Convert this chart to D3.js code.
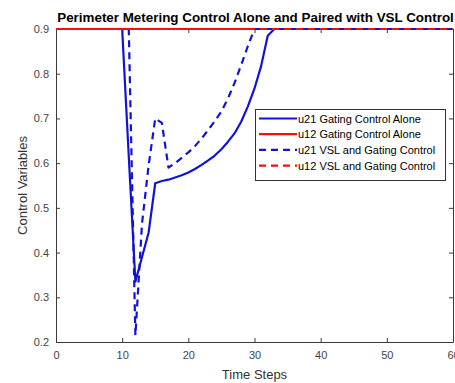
<!DOCTYPE html>
<html>
<head>
<meta charset="utf-8">
<script src="https://cdn.jsdelivr.net/npm/d3@7"></script>
<style>
  html, body { margin: 0; padding: 0; background: #fff; }
  svg { display: block; font-family: "Liberation Sans", Arial, Helvetica, sans-serif; }
</style>
</head>
<body>
<svg id="chart" width="455" height="383"></svg>
<script>
// Time steps 0..60
const steps = [0,1,2,3,4,5,6,7,8,9,10,11,12,13,14,15,16,17,18,19,20,
  21,22,23,24,25,26,27,28,29,30,31,32,33,34,35,36,37,38,39,40,
  41,42,43,44,45,46,47,48,49,50,51,52,53,54,55,56,57,58,59,60];

// u21 with gating control alone
const u21Alone = [0.9,0.9,0.9,0.9,0.9,0.9,0.9,0.9,0.9,0.9,0.9,
  0.615,0.335,0.39,0.445,0.555,0.56,0.563,0.568,0.573,0.579,
  0.587,0.596,0.606,0.617,0.631,0.648,0.667,0.693,0.727,0.767,
  0.817,0.885,0.9,0.9,0.9,0.9,0.9,0.9,0.9,0.9,
  0.9,0.9,0.9,0.9,0.9,0.9,0.9,0.9,0.9,0.9,
  0.9,0.9,0.9,0.9,0.9,0.9,0.9,0.9,0.9,0.9];

// u12 with gating control alone
const u12Alone = [0.9,0.9,0.9,0.9,0.9,0.9,0.9,0.9,0.9,0.9,0.9,
  0.9,0.9,0.9,0.9,0.9,0.9,0.9,0.9,0.9,0.9,
  0.9,0.9,0.9,0.9,0.9,0.9,0.9,0.9,0.9,0.9,
  0.9,0.9,0.9,0.9,0.9,0.9,0.9,0.9,0.9,0.9,
  0.9,0.9,0.9,0.9,0.9,0.9,0.9,0.9,0.9,0.9,
  0.9,0.9,0.9,0.9,0.9,0.9,0.9,0.9,0.9,0.9];

// u21 with VSL and gating control
const u21VSL = [0.9,0.9,0.9,0.9,0.9,0.9,0.9,0.9,0.9,0.9,0.9,
  0.9,0.215,0.465,0.595,0.70,0.69,0.59,0.60,0.612,0.624,
  0.638,0.655,0.674,0.694,0.716,0.745,0.78,0.82,0.862,0.9,
  0.9,0.9,0.9,0.9,0.9,0.9,0.9,0.9,0.9,0.9,
  0.9,0.9,0.9,0.9,0.9,0.9,0.9,0.9,0.9,0.9,
  0.9,0.9,0.9,0.9,0.9,0.9,0.9,0.9,0.9,0.9];

// u12 with VSL and gating control
const u12VSL = [0.9,0.9,0.9,0.9,0.9,0.9,0.9,0.9,0.9,0.9,0.9,
  0.9,0.9,0.9,0.9,0.9,0.9,0.9,0.9,0.9,0.9,
  0.9,0.9,0.9,0.9,0.9,0.9,0.9,0.9,0.9,0.9,
  0.9,0.9,0.9,0.9,0.9,0.9,0.9,0.9,0.9,0.9,
  0.9,0.9,0.9,0.9,0.9,0.9,0.9,0.9,0.9,0.9,
  0.9,0.9,0.9,0.9,0.9,0.9,0.9,0.9,0.9,0.9];

const xTicks = [0, 10, 20, 30, 40, 50, 60];
const yTicks = [0.2, 0.3, 0.4, 0.5, 0.6, 0.7, 0.8, 0.9];

const seriesNames = [
  "u21 Gating Control Alone",
  "u12 Gating Control Alone",
  "u21 VSL and Gating Control",
  "u12 VSL and Gating Control"
];
const seriesValues = [u21Alone, u12Alone, u21VSL, u12VSL];

const BLUE = "#1212d6";
const RED = "#f01212";
const AXIS = "#3a3a3a";
const DASH = "7,5";

const svg = d3.select("#chart");
const plotLeft = 56, plotRight = 453, plotTop = 29, plotBottom = 342;

const x = d3.scaleLinear().domain([0, 60]).range([plotLeft, plotRight]);
const y = d3.scaleLinear().domain([0.2, 0.9]).range([plotBottom, plotTop]);

// axes box with inward ticks
const tick = 4;
const gx = svg.append("g").attr("transform", `translate(0,${plotBottom})`)
  .call(d3.axisBottom(x).tickValues(xTicks).tickFormat(d3.format("d"))
    .tickSizeInner(-tick).tickSizeOuter(0).tickPadding(9));
const gxTop = svg.append("g").attr("transform", `translate(0,${plotTop})`)
  .call(d3.axisTop(x).tickValues(xTicks).tickFormat("")
    .tickSizeInner(-tick).tickSizeOuter(0));
const gy = svg.append("g").attr("transform", `translate(${plotLeft},0)`)
  .call(d3.axisLeft(y).tickValues(yTicks).tickFormat(d3.format(".1f"))
    .tickSizeInner(-tick).tickSizeOuter(0).tickPadding(7));
const gyRight = svg.append("g").attr("transform", `translate(${plotRight},0)`)
  .call(d3.axisRight(y).tickValues(yTicks).tickFormat("")
    .tickSizeInner(-tick).tickSizeOuter(0));

[gx, gxTop, gy, gyRight].forEach(g => {
  g.select(".domain").attr("stroke", AXIS).attr("stroke-width", 1);
  g.selectAll(".tick line").attr("stroke", AXIS);
  g.selectAll(".tick text").attr("fill", "#444").attr("font-size", 11)
    .attr("font-family", "Liberation Sans, Arial, sans-serif");
});

// series lines, drawn in legend order
const line = d3.line().x((d, i) => x(steps[i])).y(d => y(d));
const styles = [
  { color: BLUE, dash: null },
  { color: RED, dash: null },
  { color: BLUE, dash: DASH },
  { color: RED, dash: DASH }
];

seriesValues.forEach((vals, k) => {
  svg.append("path")
    .datum(vals)
    .attr("d", line)
    .attr("fill", "none")
    .attr("stroke", styles[k].color)
    .attr("stroke-width", 2.2)
    .attr("stroke-dasharray", styles[k].dash)
    .attr("stroke-linejoin", "round");
});

// title and axis labels
svg.append("text")
  .attr("x", (plotLeft + plotRight) / 2 + 1).attr("y", 22)
  .attr("text-anchor", "middle")
  .attr("font-size", 13.4).attr("font-weight", "bold").attr("fill", "#000")
  .text("Perimeter Metering Control Alone and Paired with VSL Control");

svg.append("text")
  .attr("x", (plotLeft + plotRight) / 2).attr("y", 379)
  .attr("text-anchor", "middle")
  .attr("font-size", 13).attr("fill", "#333")
  .text("Time Steps");

svg.append("text")
  .attr("transform", `translate(27,${(plotTop + plotBottom) / 2}) rotate(-90)`)
  .attr("text-anchor", "middle")
  .attr("font-size", 13).attr("fill", "#333")
  .text("Control Variables");

// legend
const lg = svg.append("g").attr("transform", "translate(255,109)");
lg.append("rect")
  .attr("x", 0.5).attr("y", 0.5).attr("width", 190).attr("height", 71)
  .attr("fill", "#fff").attr("stroke", "#333").attr("stroke-width", 1);

seriesNames.forEach((name, k) => {
  const ry = 9.5 + k * 15.7;
  lg.append("line")
    .attr("x1", 4).attr("x2", 42).attr("y1", ry).attr("y2", ry)
    .attr("stroke", styles[k].color).attr("stroke-width", 2.2)
    .attr("stroke-dasharray", styles[k].dash);
  lg.append("text")
    .attr("x", 43).attr("y", ry + 4)
    .attr("font-size", 11).attr("fill", "#000")
    .text(name);
});
</script>
</body>
</html>
